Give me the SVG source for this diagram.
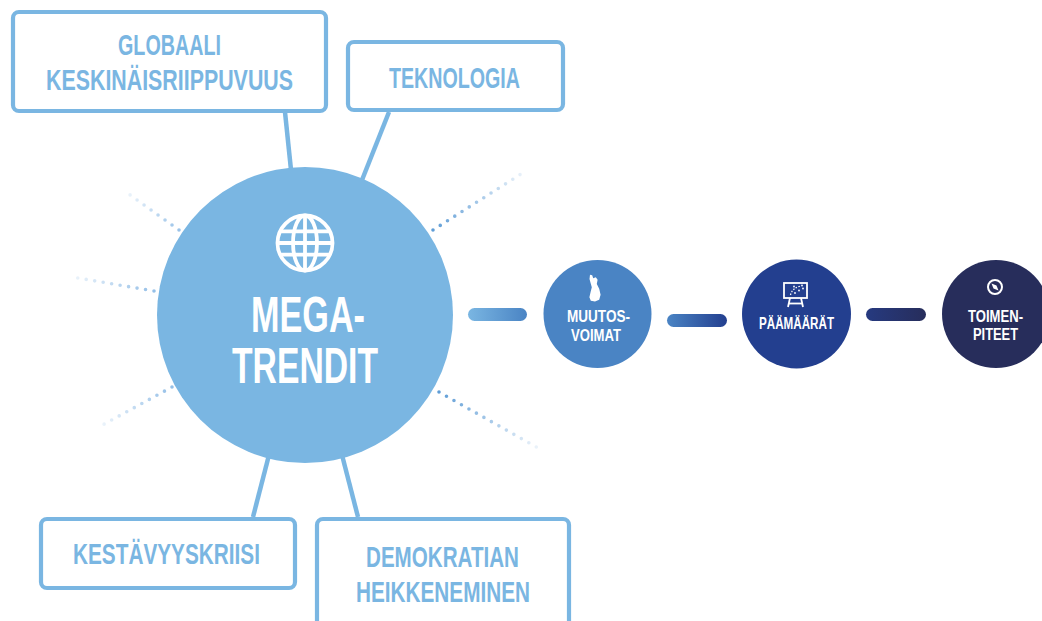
<svg xmlns="http://www.w3.org/2000/svg" width="1042" height="621" viewBox="0 0 1042 621">
<style>
.box{fill:#fff;stroke:#7ab6e2;stroke-width:4.2}
.lbl{font-family:"Liberation Sans",Arial,sans-serif;font-weight:bold;font-size:30px;fill:#7ab6e2}
.wl{font-family:"Liberation Sans",Arial,sans-serif;font-weight:bold;fill:#fff}
.conn{stroke:#7ab6e2;stroke-width:4.5;fill:none}
.ray{stroke-width:3.6;stroke-linecap:round;stroke-dasharray:0 8.6;fill:none}
.ico{fill:none;stroke:#fff}
</style>
<defs>
<linearGradient id="gUL" gradientUnits="userSpaceOnUse" x1="179" y1="230" x2="126" y2="192"><stop offset="0" stop-color="#8fbce6" stop-opacity="0.9"/><stop offset="1" stop-color="#8fbce6" stop-opacity="0.15"/></linearGradient>
<linearGradient id="gL" gradientUnits="userSpaceOnUse" x1="154" y1="291" x2="72" y2="277"><stop offset="0" stop-color="#8fbce6" stop-opacity="0.95"/><stop offset="1" stop-color="#8fbce6" stop-opacity="0.15"/></linearGradient>
<linearGradient id="gLL" gradientUnits="userSpaceOnUse" x1="172" y1="387" x2="97" y2="428"><stop offset="0" stop-color="#8fbce6" stop-opacity="0.95"/><stop offset="1" stop-color="#8fbce6" stop-opacity="0.12"/></linearGradient>
<linearGradient id="gUR" gradientUnits="userSpaceOnUse" x1="433" y1="230" x2="521" y2="174"><stop offset="0" stop-color="#5f9dd6"/><stop offset="1" stop-color="#5f9dd6" stop-opacity="0.15"/></linearGradient>
<linearGradient id="gLR" gradientUnits="userSpaceOnUse" x1="439" y1="392" x2="538" y2="448"><stop offset="0" stop-color="#5f9dd6"/><stop offset="1" stop-color="#5f9dd6" stop-opacity="0.12"/></linearGradient>
<linearGradient id="p1" x1="0" y1="0" x2="1" y2="0"><stop offset="0" stop-color="#7ab6e2"/><stop offset="1" stop-color="#4a84c4"/></linearGradient>
<linearGradient id="p2" x1="0" y1="0" x2="1" y2="0"><stop offset="0" stop-color="#4a84c4"/><stop offset="1" stop-color="#233f8f"/></linearGradient>
<linearGradient id="p3" x1="0" y1="0" x2="1" y2="0"><stop offset="0" stop-color="#263a80"/><stop offset="1" stop-color="#272d5b"/></linearGradient>
</defs>

<g id="rays">
<line class="ray" stroke="url(#gUL)" x1="179" y1="230" x2="126" y2="192"/>
<line class="ray" stroke="url(#gL)" x1="154" y1="291" x2="72" y2="277"/>
<line class="ray" stroke="url(#gLL)" x1="172" y1="387" x2="97" y2="428"/>
<line class="ray" stroke="url(#gUR)" x1="433" y1="230" x2="521" y2="174"/>
<line class="ray" stroke="url(#gLR)" x1="439" y1="392" x2="538" y2="448"/>
</g>

<g id="connectors">
<line class="conn" x1="285" y1="112" x2="291" y2="170"/>
<line class="conn" x1="389" y1="112" x2="362" y2="180"/>
<line class="conn" x1="269" y1="455" x2="253" y2="517"/>
<line class="conn" x1="342" y1="455" x2="358" y2="517"/>
<rect x="468" y="308" width="59" height="13" rx="6.5" fill="url(#p1)"/>
<rect x="667" y="314" width="60" height="13" rx="6.5" fill="url(#p2)"/>
<rect x="866" y="308" width="60" height="13" rx="6.5" fill="url(#p3)"/>
</g>

<g id="megatrendit">
<circle cx="305" cy="315" r="148" fill="#7ab6e2"/>
<g class="ico" stroke-width="3.8">
<circle cx="305" cy="243" r="27.5"/>
<ellipse cx="305" cy="243" rx="12" ry="27.5"/>
<line x1="305" y1="215.5" x2="305" y2="270.5"/>
<line x1="277.5" y1="243" x2="332.5" y2="243"/>
<line x1="280.2" y1="231.3" x2="329.8" y2="231.3"/>
<line x1="280.2" y1="254.7" x2="329.8" y2="254.7"/>
</g>
<text class="wl" font-size="50" x="251" y="332" textLength="114" lengthAdjust="spacingAndGlyphs">MEGA-</text>
<text class="wl" font-size="50" x="232" y="383" textLength="146" lengthAdjust="spacingAndGlyphs">TRENDIT</text>
</g>

<g id="globaali">
<rect class="box" x="13" y="12" width="313" height="99" rx="6"/>
<text class="lbl" x="118" y="55" textLength="103" lengthAdjust="spacingAndGlyphs">GLOBAALI</text>
<text class="lbl" x="46" y="90" textLength="247" lengthAdjust="spacingAndGlyphs">KESKINÄISRIIPPUVUUS</text>
</g>

<g id="teknologia">
<rect class="box" x="348" y="42" width="215" height="68" rx="6"/>
<text class="lbl" x="389" y="88" textLength="131" lengthAdjust="spacingAndGlyphs">TEKNOLOGIA</text>
</g>

<g id="kestavyyskriisi">
<rect class="box" x="41" y="519" width="254" height="69" rx="6"/>
<text class="lbl" x="73" y="564" textLength="187" lengthAdjust="spacingAndGlyphs">KESTÄVYYSKRIISI</text>
</g>

<g id="demokratian">
<rect class="box" x="317" y="519" width="252" height="130" rx="6"/>
<text class="lbl" x="366" y="567" textLength="153" lengthAdjust="spacingAndGlyphs">DEMOKRATIAN</text>
<text class="lbl" x="356" y="602" textLength="174" lengthAdjust="spacingAndGlyphs">HEIKKENEMINEN</text>
</g>

<g id="muutosvoimat">
<circle cx="597.5" cy="314" r="54" fill="#4a84c4"/>
<path fill="#fff" d="M589.5 279 L590 274.8 L592.2 275.2 L593.2 278.2 L595.8 277.2 L597.6 279.8 L596.8 284 L599.2 288.8 L600.6 294.8 L599.2 299.8 L595 301.4 L590.8 300.8 L589.4 297.2 L590.6 292 L591.8 287.2 L590.6 283 Z"/>
<text class="wl" font-size="16.5" x="567" y="321.7" textLength="63" lengthAdjust="spacingAndGlyphs">MUUTOS-</text>
<text class="wl" font-size="16.5" x="571" y="340.7" textLength="50" lengthAdjust="spacingAndGlyphs">VOIMAT</text>
</g>

<g id="paamaarat">
<circle cx="796.5" cy="314" r="54.5" fill="#233f8f"/>
<g class="ico" stroke-width="1.8">
<rect x="784" y="283" width="23" height="15"/>
<line x1="790" y1="298" x2="788" y2="307"/>
<line x1="801" y1="298" x2="803" y2="307"/>
<line x1="789" y1="303.5" x2="802.5" y2="303.5"/>
<path d="M790.5 295 Q792 288 801 286" stroke-width="1.2" stroke-dasharray="1.5 1.5"/>
</g>
<g fill="#fff">
<circle cx="794" cy="286.5" r="0.9"/><circle cx="799" cy="290.5" r="0.9"/><circle cx="803" cy="288.5" r="0.9"/><circle cx="795" cy="293" r="0.9"/><circle cx="802" cy="285.5" r="0.9"/>
</g>
<text class="wl" font-size="16.5" x="759" y="328.5" textLength="75" lengthAdjust="spacingAndGlyphs">PÄÄMÄÄRÄT</text>
</g>

<g id="toimenpiteet">
<circle cx="996" cy="314" r="54" fill="#272d5b"/>
<circle class="ico" cx="995" cy="287" r="7" stroke-width="2"/>
<polygon fill="#fff" points="991.5,283.5 996.5,285.5 998.5,290.5 993.5,288.5"/>
<text class="wl" font-size="16" x="968" y="321.5" textLength="55" lengthAdjust="spacingAndGlyphs">TOIMEN-</text>
<text class="wl" font-size="16" x="973" y="339.8" textLength="45" lengthAdjust="spacingAndGlyphs">PITEET</text>
</g>
</svg>
